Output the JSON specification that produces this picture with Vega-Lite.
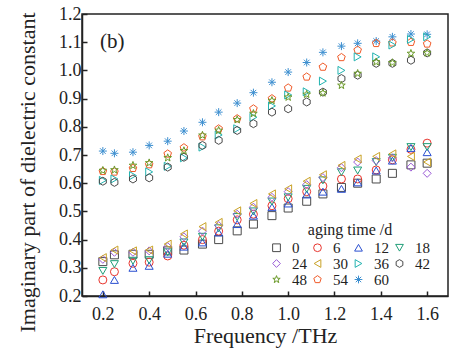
{
  "$schema": "https://vega.github.io/schema/vega-lite/v6.json",
  "autosize": {"type": "none"},
  "width": 366,
  "height": 282,
  "padding": {"left": 82, "top": 14, "right": 6, "bottom": 56},
  "background": "white",
  "title": {"text": "(b)", "anchor": "start", "frame": "group", "orient": "top", "offset": -47, "dx": 18, "fontSize": 21, "fontWeight": "normal", "font": "Liberation Serif", "color": "#222", "baseline": "top"},
  "config": {
    "view": {"stroke": "#222", "strokeWidth": 1.5},
    "font": "Liberation Serif",
    "axis": {
      "grid": false,
      "domainColor": "#222",
      "domainWidth": 1.5,
      "tickColor": "#222",
      "tickWidth": 1.5,
      "tickSize": -5,
      "labelFont": "Liberation Serif",
      "labelFontSize": 18,
      "labelColor": "#222",
      "labelOverlap": false,
      "titleFont": "Liberation Serif",
      "titleFontSize": 22,
      "titleFontWeight": "normal",
      "titleColor": "#222"
    },
    "legend": {
      "titleFont": "Liberation Serif",
      "labelFont": "Liberation Serif",
      "titleFontSize": 16,
      "labelFontSize": 15,
      "titleFontWeight": "normal",
      "titleColor": "#222",
      "labelColor": "#222"
    }
  },
  "data": {
    "values": [
      {"freq":0.2,"aging":"60","eps":0.714},{"freq":0.25,"aging":"60","eps":0.706},{"freq":0.33,"aging":"60","eps":0.71},{"freq":0.4,"aging":"60","eps":0.734},{"freq":0.48,"aging":"60","eps":0.749},{"freq":0.55,"aging":"60","eps":0.785},{"freq":0.63,"aging":"60","eps":0.816},{"freq":0.7,"aging":"60","eps":0.852},{"freq":0.78,"aging":"60","eps":0.884},{"freq":0.85,"aging":"60","eps":0.921},{"freq":0.93,"aging":"60","eps":0.958},{"freq":1.0,"aging":"60","eps":0.994},{"freq":1.08,"aging":"60","eps":1.028},{"freq":1.15,"aging":"60","eps":1.064},{"freq":1.23,"aging":"60","eps":1.086},{"freq":1.3,"aging":"60","eps":1.096},{"freq":1.38,"aging":"60","eps":1.104},{"freq":1.45,"aging":"60","eps":1.119},{"freq":1.53,"aging":"60","eps":1.129},{"freq":1.6,"aging":"60","eps":1.128},

      {"freq":0.2,"aging":"54","eps":0.642},{"freq":0.25,"aging":"54","eps":0.64},{"freq":0.33,"aging":"54","eps":0.653},{"freq":0.4,"aging":"54","eps":0.666},{"freq":0.48,"aging":"54","eps":0.704},{"freq":0.55,"aging":"54","eps":0.726},{"freq":0.63,"aging":"54","eps":0.765},{"freq":0.7,"aging":"54","eps":0.793},{"freq":0.78,"aging":"54","eps":0.829},{"freq":0.85,"aging":"54","eps":0.864},{"freq":0.93,"aging":"54","eps":0.9},{"freq":1.0,"aging":"54","eps":0.938},{"freq":1.08,"aging":"54","eps":0.977},{"freq":1.15,"aging":"54","eps":1.012},{"freq":1.23,"aging":"54","eps":1.046},{"freq":1.3,"aging":"54","eps":1.072},{"freq":1.38,"aging":"54","eps":1.096},{"freq":1.45,"aging":"54","eps":1.098},{"freq":1.53,"aging":"54","eps":1.1},{"freq":1.6,"aging":"54","eps":1.094},

      {"freq":0.2,"aging":"36","eps":0.61},{"freq":0.25,"aging":"36","eps":0.615},{"freq":0.33,"aging":"36","eps":0.627},{"freq":0.4,"aging":"36","eps":0.64},{"freq":0.48,"aging":"36","eps":0.66},{"freq":0.55,"aging":"36","eps":0.69},{"freq":0.63,"aging":"36","eps":0.728},{"freq":0.7,"aging":"36","eps":0.771},{"freq":0.78,"aging":"36","eps":0.793},{"freq":0.85,"aging":"36","eps":0.834},{"freq":0.93,"aging":"36","eps":0.874},{"freq":1.0,"aging":"36","eps":0.913},{"freq":1.08,"aging":"36","eps":0.924},{"freq":1.15,"aging":"36","eps":0.962},{"freq":1.23,"aging":"36","eps":1.0},{"freq":1.3,"aging":"36","eps":1.048},{"freq":1.38,"aging":"36","eps":1.048},{"freq":1.45,"aging":"36","eps":1.09},{"freq":1.53,"aging":"36","eps":1.11},{"freq":1.6,"aging":"36","eps":1.119},

      {"freq":0.2,"aging":"42","eps":0.607},{"freq":0.25,"aging":"42","eps":0.603},{"freq":0.33,"aging":"42","eps":0.615},{"freq":0.4,"aging":"42","eps":0.619},{"freq":0.48,"aging":"42","eps":0.657},{"freq":0.55,"aging":"42","eps":0.692},{"freq":0.63,"aging":"42","eps":0.734},{"freq":0.7,"aging":"42","eps":0.752},{"freq":0.78,"aging":"42","eps":0.787},{"freq":0.85,"aging":"42","eps":0.811},{"freq":0.93,"aging":"42","eps":0.852},{"freq":1.0,"aging":"42","eps":0.864},{"freq":1.08,"aging":"42","eps":0.888},{"freq":1.15,"aging":"42","eps":0.923},{"freq":1.23,"aging":"42","eps":0.971},{"freq":1.3,"aging":"42","eps":0.983},{"freq":1.38,"aging":"42","eps":1.025},{"freq":1.45,"aging":"42","eps":1.025},{"freq":1.53,"aging":"42","eps":1.036},{"freq":1.6,"aging":"42","eps":1.062},

      {"freq":0.2,"aging":"48","eps":0.645},{"freq":0.25,"aging":"48","eps":0.647},{"freq":0.33,"aging":"48","eps":0.663},{"freq":0.4,"aging":"48","eps":0.672},{"freq":0.48,"aging":"48","eps":0.69},{"freq":0.55,"aging":"48","eps":0.715},{"freq":0.63,"aging":"48","eps":0.77},{"freq":0.7,"aging":"48","eps":0.787},{"freq":0.78,"aging":"48","eps":0.825},{"freq":0.85,"aging":"48","eps":0.847},{"freq":0.93,"aging":"48","eps":0.893},{"freq":1.0,"aging":"48","eps":0.905},{"freq":1.08,"aging":"48","eps":0.915},{"freq":1.15,"aging":"48","eps":0.92},{"freq":1.23,"aging":"48","eps":0.947},{"freq":1.3,"aging":"48","eps":0.989},{"freq":1.38,"aging":"48","eps":1.03},{"freq":1.45,"aging":"48","eps":1.027},{"freq":1.53,"aging":"48","eps":1.06},{"freq":1.6,"aging":"48","eps":1.062},

      {"freq":0.2,"aging":"0","eps":0.322},{"freq":0.25,"aging":"0","eps":0.346},{"freq":0.33,"aging":"0","eps":0.348},{"freq":0.4,"aging":"0","eps":0.348},{"freq":0.48,"aging":"0","eps":0.36},{"freq":0.55,"aging":"0","eps":0.363},{"freq":0.63,"aging":"0","eps":0.384},{"freq":0.7,"aging":"0","eps":0.4},{"freq":0.78,"aging":"0","eps":0.431},{"freq":0.85,"aging":"0","eps":0.455},{"freq":0.93,"aging":"0","eps":0.485},{"freq":1.0,"aging":"0","eps":0.512},{"freq":1.08,"aging":"0","eps":0.536},{"freq":1.15,"aging":"0","eps":0.562},{"freq":1.23,"aging":"0","eps":0.585},{"freq":1.3,"aging":"0","eps":0.6},{"freq":1.38,"aging":"0","eps":0.615},{"freq":1.45,"aging":"0","eps":0.635},{"freq":1.53,"aging":"0","eps":0.665},{"freq":1.6,"aging":"0","eps":0.671},

      {"freq":0.2,"aging":"6","eps":0.257},{"freq":0.25,"aging":"6","eps":0.286},{"freq":0.33,"aging":"6","eps":0.316},{"freq":0.4,"aging":"6","eps":0.32},{"freq":0.48,"aging":"6","eps":0.342},{"freq":0.55,"aging":"6","eps":0.38},{"freq":0.63,"aging":"6","eps":0.4},{"freq":0.7,"aging":"6","eps":0.43},{"freq":0.78,"aging":"6","eps":0.47},{"freq":0.85,"aging":"6","eps":0.49},{"freq":0.93,"aging":"6","eps":0.52},{"freq":1.0,"aging":"6","eps":0.545},{"freq":1.08,"aging":"6","eps":0.57},{"freq":1.15,"aging":"6","eps":0.59},{"freq":1.23,"aging":"6","eps":0.615},{"freq":1.3,"aging":"6","eps":0.615},{"freq":1.38,"aging":"6","eps":0.647},{"freq":1.45,"aging":"6","eps":0.683},{"freq":1.53,"aging":"6","eps":0.72},{"freq":1.6,"aging":"6","eps":0.742},

      {"freq":0.2,"aging":"12","eps":0.206},{"freq":0.25,"aging":"12","eps":0.257},{"freq":0.33,"aging":"12","eps":0.3},{"freq":0.4,"aging":"12","eps":0.307},{"freq":0.48,"aging":"12","eps":0.35},{"freq":0.55,"aging":"12","eps":0.375},{"freq":0.63,"aging":"12","eps":0.39},{"freq":0.7,"aging":"12","eps":0.425},{"freq":0.78,"aging":"12","eps":0.455},{"freq":0.85,"aging":"12","eps":0.485},{"freq":0.93,"aging":"12","eps":0.515},{"freq":1.0,"aging":"12","eps":0.528},{"freq":1.08,"aging":"12","eps":0.56},{"freq":1.15,"aging":"12","eps":0.57},{"freq":1.23,"aging":"12","eps":0.58},{"freq":1.3,"aging":"12","eps":0.603},{"freq":1.38,"aging":"12","eps":0.645},{"freq":1.45,"aging":"12","eps":0.68},{"freq":1.53,"aging":"12","eps":0.725},{"freq":1.6,"aging":"12","eps":0.71},

      {"freq":0.2,"aging":"18","eps":0.289},{"freq":0.25,"aging":"18","eps":0.313},{"freq":0.33,"aging":"18","eps":0.325},{"freq":0.4,"aging":"18","eps":0.327},{"freq":0.48,"aging":"18","eps":0.355},{"freq":0.55,"aging":"18","eps":0.39},{"freq":0.63,"aging":"18","eps":0.41},{"freq":0.7,"aging":"18","eps":0.44},{"freq":0.78,"aging":"18","eps":0.48},{"freq":0.85,"aging":"18","eps":0.5},{"freq":0.93,"aging":"18","eps":0.535},{"freq":1.0,"aging":"18","eps":0.55},{"freq":1.08,"aging":"18","eps":0.58},{"freq":1.15,"aging":"18","eps":0.61},{"freq":1.23,"aging":"18","eps":0.639},{"freq":1.3,"aging":"18","eps":0.645},{"freq":1.38,"aging":"18","eps":0.675},{"freq":1.45,"aging":"18","eps":0.69},{"freq":1.53,"aging":"18","eps":0.728},{"freq":1.6,"aging":"18","eps":0.728},

      {"freq":0.2,"aging":"24","eps":0.33},{"freq":0.25,"aging":"24","eps":0.355},{"freq":0.33,"aging":"24","eps":0.355},{"freq":0.4,"aging":"24","eps":0.36},{"freq":0.48,"aging":"24","eps":0.375},{"freq":0.55,"aging":"24","eps":0.41},{"freq":0.63,"aging":"24","eps":0.43},{"freq":0.7,"aging":"24","eps":0.45},{"freq":0.78,"aging":"24","eps":0.49},{"freq":0.85,"aging":"24","eps":0.515},{"freq":0.93,"aging":"24","eps":0.55},{"freq":1.0,"aging":"24","eps":0.57},{"freq":1.08,"aging":"24","eps":0.595},{"freq":1.15,"aging":"24","eps":0.62},{"freq":1.23,"aging":"24","eps":0.655},{"freq":1.3,"aging":"24","eps":0.675},{"freq":1.38,"aging":"24","eps":0.68},{"freq":1.45,"aging":"24","eps":0.69},{"freq":1.53,"aging":"24","eps":0.657},{"freq":1.6,"aging":"24","eps":0.635},

      {"freq":0.2,"aging":"30","eps":0.336},{"freq":0.25,"aging":"30","eps":0.363},{"freq":0.33,"aging":"30","eps":0.36},{"freq":0.4,"aging":"30","eps":0.363},{"freq":0.48,"aging":"30","eps":0.384},{"freq":0.55,"aging":"30","eps":0.42},{"freq":0.63,"aging":"30","eps":0.446},{"freq":0.7,"aging":"30","eps":0.461},{"freq":0.78,"aging":"30","eps":0.502},{"freq":0.85,"aging":"30","eps":0.528},{"freq":0.93,"aging":"30","eps":0.562},{"freq":1.0,"aging":"30","eps":0.58},{"freq":1.08,"aging":"30","eps":0.607},{"freq":1.15,"aging":"30","eps":0.63},{"freq":1.23,"aging":"30","eps":0.663},{"freq":1.3,"aging":"30","eps":0.686},{"freq":1.38,"aging":"30","eps":0.695},{"freq":1.45,"aging":"30","eps":0.704},{"freq":1.53,"aging":"30","eps":0.695},{"freq":1.6,"aging":"30","eps":0.675}
    ]
  },
  "mark": {"type": "point", "filled": false, "strokeWidth": 1, "size": 64, "opacity": 1},
  "encoding": {
    "x": {
      "field": "freq", "type": "quantitative",
      "scale": {"domain": [0.11, 1.69], "nice": false, "zero": false},
      "axis": {"title": "Frequency /THz", "values": [0.2, 0.4, 0.6, 0.8, 1.0, 1.2, 1.4, 1.6], "format": ".1f", "labelFont": "Liberation Serif", "labelFontSize": 18, "labelPadding": 14, "titlePadding": 2, "labelOverlap": false}
    },
    "y": {
      "field": "eps", "type": "quantitative",
      "scale": {"domain": [0.2, 1.2], "nice": false, "zero": false},
      "axis": {"title": "Imaginary part of dielectric constant", "titleY": 158, "values": [0.2, 0.3, 0.4, 0.5, 0.6, 0.7, 0.8, 0.9, 1.0, 1.1, 1.2], "format": ".1f", "labelFont": "Liberation Serif", "labelFontSize": 18, "labelPadding": 6, "titlePadding": 19, "labelOverlap": false}
    },
    "shape": {
      "field": "aging", "type": "nominal",
      "scale": {
        "domain": ["0", "6", "12", "18", "24", "30", "36", "42", "48", "54", "60"],
        "range": [
          "square", "circle", "triangle-up", "triangle-down", "diamond", "triangle-left", "triangle-right",
          "M0,-1L0.866,-0.5L0.866,0.5L0,1L-0.866,0.5L-0.866,-0.5Z",
          "M0,-1L0.235,-0.324L0.951,-0.309L0.38,0.124L0.588,0.809L0,0.4L-0.588,0.809L-0.38,0.124L-0.951,-0.309L-0.235,-0.324Z",
          "M0,-1L0.951,-0.309L0.588,0.809L-0.588,0.809L-0.951,-0.309Z",
          "M0,-1L0,1M-1,0L1,0M-0.7,-0.7L0.7,0.7M-0.7,0.7L0.7,-0.7"
        ]
      },
      "legend": {
        "title": "aging time /d",
        "orient": "none",
        "direction": "horizontal",
        "legendX": 187,
        "legendY": 208,
        "columns": 4,
        "columnPadding": 3,
        "rowPadding": -8,
        "symbolSize": 60,
        "symbolStrokeWidth": 1,
        "labelOffset": 8,
        "titleAnchor": "middle",
        "titlePadding": 2
      }
    },
    "color": {
      "field": "aging", "type": "nominal",
      "scale": {
        "domain": ["0", "6", "12", "18", "24", "30", "36", "42", "48", "54", "60"],
        "range": ["#4a4a4a", "#e8352e", "#2a4fd0", "#1f9e78", "#9a5ad6", "#c9a227", "#22b3b0", "#4a4a4a", "#6b9a2a", "#f05a28", "#3d8fd0"]
      }
    }
  }
}
